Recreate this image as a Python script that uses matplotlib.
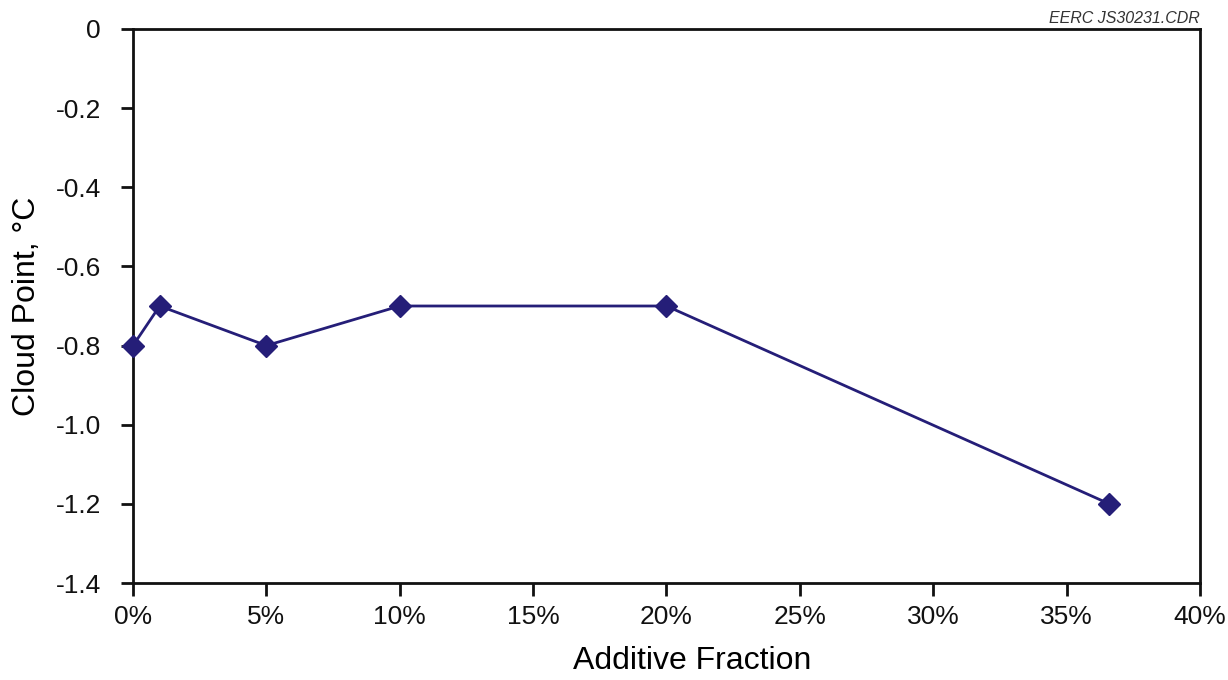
import matplotlib
matplotlib.use("Agg")
import matplotlib.pyplot as plt
from matplotlib.ticker import FuncFormatter

# Additive fraction (%) and measured cloud point (°C)
additive_pct = [0, 1, 5, 10, 20, 36.6]
cloud_point = [-0.8, -0.7, -0.8, -0.7, -0.7, -1.2]

x_ticks = [0, 5, 10, 15, 20, 25, 30, 35, 40]
y_ticks = [0, -0.2, -0.4, -0.6, -0.8, -1.0, -1.2, -1.4]

plt.rcParams['font.family'] = ['Liberation Sans', 'DejaVu Sans']

fig = plt.figure(figsize=(12.28, 6.8), dpi=100)
ax = fig.add_axes([0.1083, 0.1426, 0.8689, 0.8148])

line_color = '#251E78'
ax.plot(additive_pct, cloud_point, color=line_color, lw=2,
        marker='D', markersize=11, markerfacecolor=line_color,
        markeredgecolor=line_color, clip_on=False, zorder=3)

ax.set_xlim(0, 40)
ax.set_ylim(-1.4, 0)
ax.set_xticks(x_ticks)
ax.set_yticks(y_ticks)
ax.xaxis.set_major_formatter(FuncFormatter(lambda v, p: f"{int(v)}%"))
ax.yaxis.set_major_formatter(FuncFormatter(lambda v, p: "0" if abs(v) < 1e-9 else f"{v:.1f}"))

for s in ax.spines.values():
    s.set_linewidth(2)
    s.set_color('#111111')
ax.tick_params(direction='out', length=9, width=2, labelsize=19,
               colors='#111111')
ax.tick_params(axis='y', pad=14)
ax.tick_params(axis='x', pad=7)

ax.set_xlabel('Additive Fraction', fontsize=23)
ax.xaxis.set_label_coords(0.524, -0.114)
ax.set_ylabel('Cloud Point, °C', fontsize=23, labelpad=10)

fig.text(0.977, 0.9735, 'EERC JS30231.CDR', fontsize=11.5, style='italic',
         ha='right', va='center', color='#333333')

fig.savefig('out.png', dpi=100)
